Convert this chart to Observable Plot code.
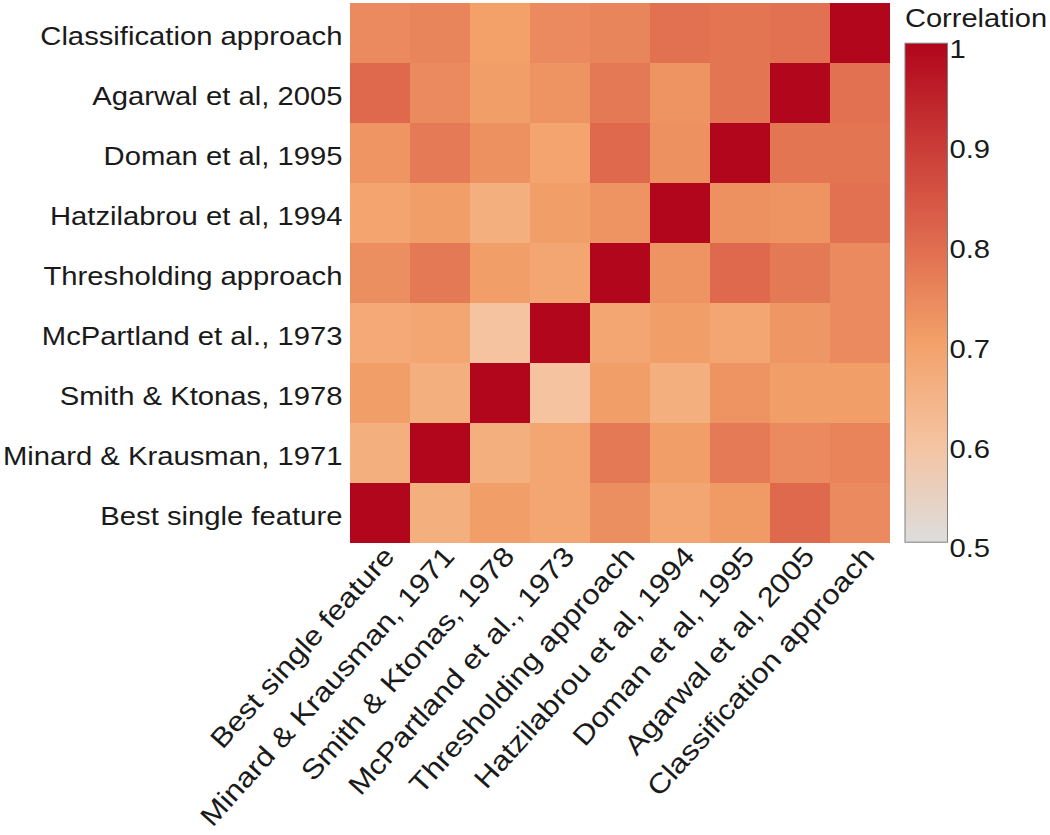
<!DOCTYPE html>
<html><head><meta charset="utf-8">
<script src="https://cdn.jsdelivr.net/npm/d3@7"></script>
<script src="https://cdn.jsdelivr.net/npm/@observablehq/plot@0.6"></script>
<style>
body{margin:0;background:#fff;}
#wrap{position:relative;width:1050px;height:835px;overflow:hidden;font-family:"Liberation Sans",Arial,sans-serif;background:#fff;}
#main{position:absolute;left:0;top:0;}
#legend{position:absolute;left:895px;top:0;}
#ltitle{position:absolute;left:905px;top:3px;font-size:26px;line-height:30px;transform:scaleX(1.117);transform-origin:0 0;color:#1a1a1a;white-space:nowrap;}
</style></head><body>
<div id="wrap"><div id="main"></div><div id="legend"></div><div id="ltitle">Correlation</div></div>
<script>
// Categories (bottom-to-top on y, left-to-right on x)
const methods = [
  "Best single feature",
  "Minard & Krausman, 1971",
  "Smith & Ktonas, 1978",
  "McPartland et al., 1973",
  "Thresholding approach",
  "Hatzilabrou et al, 1994",
  "Doman et al, 1995",
  "Agarwal et al, 2005",
  "Classification approach"
];
// One array per row (row method), values in column order of `methods`
const rowBestSingle     = [1.000, 0.660, 0.705, 0.685, 0.733, 0.685, 0.713, 0.805, 0.742];
const rowMinard         = [0.660, 1.000, 0.660, 0.685, 0.775, 0.705, 0.771, 0.742, 0.756];
const rowSmith          = [0.705, 0.660, 1.000, 0.600, 0.705, 0.660, 0.724, 0.705, 0.705];
const rowMcPartland     = [0.675, 0.685, 0.600, 1.000, 0.685, 0.705, 0.685, 0.718, 0.742];
const rowThresholding   = [0.733, 0.775, 0.705, 0.685, 1.000, 0.724, 0.805, 0.775, 0.742];
const rowHatzilabrou    = [0.690, 0.705, 0.660, 0.705, 0.724, 1.000, 0.730, 0.724, 0.789];
const rowDoman          = [0.722, 0.771, 0.730, 0.690, 0.805, 0.730, 1.000, 0.782, 0.782];
const rowAgarwal        = [0.805, 0.742, 0.705, 0.724, 0.775, 0.724, 0.782, 1.000, 0.789];
const rowClassification = [0.742, 0.751, 0.700, 0.742, 0.751, 0.789, 0.782, 0.789, 1.000];
const rows = [rowBestSingle, rowMinard, rowSmith, rowMcPartland, rowThresholding,
              rowHatzilabrou, rowDoman, rowAgarwal, rowClassification];
// Legend ticks
const legendTicks = [0.5, 0.6, 0.7, 0.8, 0.9, 1];
const legendLabels = ["0.5", "0.6", "0.7", "0.8", "0.9", "1"];

const data = [];
rows.forEach((vals, i) => vals.forEach((v, j) => data.push({row: methods[i], col: methods[j], value: v})));

const colorOpts = {
  type: "linear",
  domain: [0.5, 0.6, 0.7, 0.8, 0.9, 1],
  range: ["#dddddd", "#f5c3a0", "#f3a169", "#df6b4e", "#c93a36", "#b1061c"],
  clamp: true
};
const baseStyle = {fontFamily: "'Liberation Sans', Arial, sans-serif", fontSize: "25.5px", color: "#1a1a1a", background: "white", overflow: "visible"};

function stretch(root, sel, s) {
  root.querySelectorAll(sel).forEach(t => {
    const tr = t.getAttribute("transform") || "";
    if (tr.includes("translate")) {
      t.setAttribute("transform", tr + ` scale(${s},1)`);
    } else {
      const x = +t.getAttribute("x") || 0, y = +t.getAttribute("y") || 0;
      t.removeAttribute("x"); t.removeAttribute("y");
      t.setAttribute("transform", `translate(${x},${y})${tr ? " " + tr : ""} scale(${s},1)`);
    }
  });
}

const main = Plot.plot({
  width: 895, height: 835,
  marginLeft: 347, marginRight: 2, marginTop: 1, marginBottom: 290,
  style: baseStyle,
  x: {domain: methods, padding: 0, label: null},
  y: {domain: methods.slice().reverse(), padding: 0, label: null},
  color: colorOpts,
  marks: [
    Plot.cell(data, {x: "col", y: "row", fill: "value", inset: 0}),
    Plot.axisY({tickSize: 0, tickPadding: 5, dy: 3, fontSize: 26, label: null}),
    Plot.axisX({tickSize: 0, tickRotate: -48, tickPadding: 6, dx: 9, fontSize: 27.5, label: null})
  ]
});
stretch(main, 'g[aria-label="y-axis tick label"] text', 1.125);
stretch(main, 'g[aria-label="x-axis tick label"] text', 1.14);
document.getElementById("main").appendChild(main);

const legend = Plot.plot({
  width: 155, height: 600,
  marginLeft: 9.5, marginRight: 103, marginTop: 42.7, marginBottom: 58.3,
  style: baseStyle,
  x: {domain: [0, 1], axis: null},
  y: {domain: [0.5, 1], axis: null},
  color: colorOpts,
  marks: [
    Plot.raster({x1: 0, x2: 1, y1: 0.5, y2: 1, width: 1, height: 500, fill: (x, y) => y, imageRendering: "auto"}),
    Plot.frame({stroke: "#808080", strokeWidth: 1}),
    Plot.axisY({anchor: "right", ticks: legendTicks, tickFormat: (d) => legendLabels[legendTicks.indexOf(d)], tickSize: 0, tickPadding: 2, dy: 7, label: null})
  ]
});
stretch(legend, 'g[aria-label="y-axis tick label"] text', 1.145);
document.getElementById("legend").appendChild(legend);
</script>
</body></html>
